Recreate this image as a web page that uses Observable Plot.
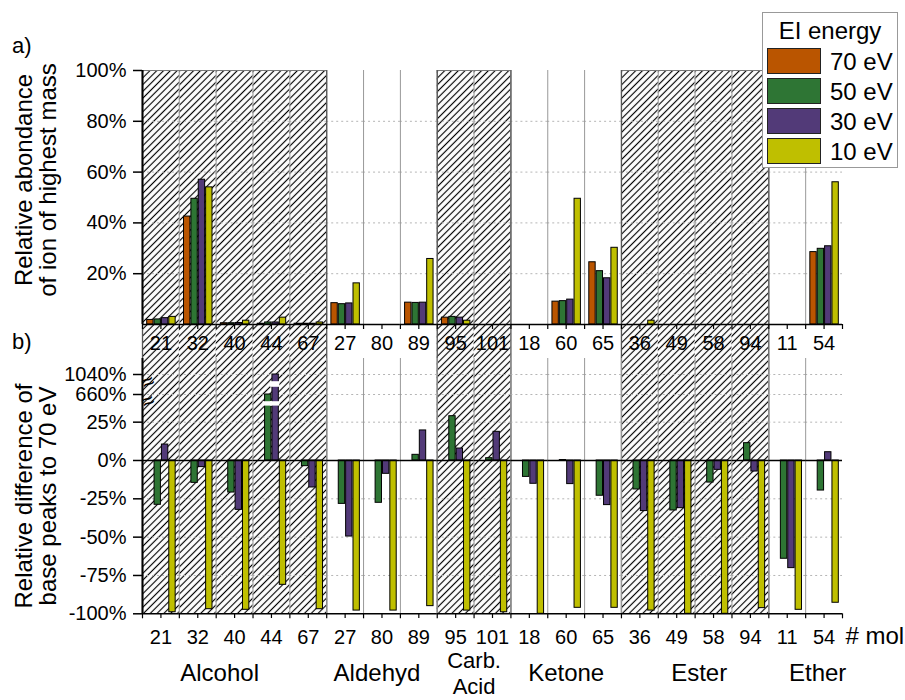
<!DOCTYPE html>
<html><head><meta charset="utf-8">
<script src="https://cdn.jsdelivr.net/npm/d3@7"></script>
<script src="https://cdn.jsdelivr.net/npm/@observablehq/plot@0.6"></script>
<style>
body{margin:0;background:#fff;font-family:"Liberation Sans",Arial,sans-serif;color:#000;}
#wrap{position:relative;width:905px;height:700px;overflow:hidden;background:#fff;}
#wrap svg.chart{position:absolute;left:0;top:0;}
.ytitle{position:absolute;width:330px;line-height:24px;font-size:24px;text-align:center;transform:translate(-50%,-50%) rotate(-90deg);white-space:nowrap;}
.panel{position:absolute;font-size:22px;line-height:28px;}
#legend{position:absolute;left:762px;top:12px;width:134px;height:154px;border:1px solid #999;background:#fff;}
#legend .ttl{position:absolute;left:0;top:4px;width:134px;text-align:center;font-size:24px;line-height:28px;}
#legend .sw{position:absolute;left:4px;width:52px;height:24px;border:1.5px solid #222;}
#legend .lb{position:absolute;left:67px;font-size:24px;line-height:28px;}
</style></head>
<body>
<svg width="0" height="0" style="position:absolute"><defs>
<pattern id="hatch" patternUnits="userSpaceOnUse" width="4.8" height="4.8" patternTransform="rotate(45)">
<line x1="2.4" y1="-1" x2="2.4" y2="5.8" stroke="#000" stroke-width="1.15"/>
</pattern></defs></svg>
<div id="wrap">
  <div class="panel" style="left:12px;top:32px">a)</div>
  <div class="panel" style="left:12px;top:328px">b)</div>
  <div class="ytitle" style="left:36px;top:180px">Relative abondance<br>of ion of highest mass</div>
  <div class="ytitle" style="left:36px;top:496px">Relative difference of<br>base peaks to 70 eV</div>
  <div id="legend"><div class="ttl">EI energy</div></div>
</div>
<script>
// ---- data ----
const molecules = ["21","32","40","44","67","27","80","89","95","101","18","60","65","36","49","58","94","11","54"];
const groupNames = ["Alcohol","Aldehyd","Carb.\nAcid","Ketone","Ester","Ether"];
const groupSizes = [5,3,2,3,4,2];
const hatchedGroups = ["Alcohol","Carb.\nAcid","Ester"];
const energies = ["70 eV","50 eV","30 eV","10 eV"];
const energyColors = ["#BA5500","#2E7534","#523A78","#BFBF00"];

// a) relative abundance of ion of highest mass (%)
const abund70 = [1.8, 42.5, 0.5, 0.3, 0.3, 8.4, 0, 8.6, 2.7, 0, 0, 9.0, 24.5, 0, 0, 0, 0, 0, 28.5];
const abund50 = [2.0, 49.5, 0.5, 0.8, 0.3, 8.0, 0, 8.5, 3.0, 0, 0, 9.2, 21.0, 0, 0, 0, 0, 0, 29.8];
const abund30 = [2.5, 57.0, 0.6, 0.8, 0.3, 8.3, 0, 8.6, 2.7, 0, 0, 9.8, 18.2, 0, 0, 0, 0, 0, 30.8];
const abund10 = [3.0, 54.0, 1.5, 2.7, 0.8, 16.2, 0, 25.8, 1.5, 0, 0, 49.5, 30.2, 1.5, 0, 0, 0, 0, 56.0];

// b) relative difference of base peaks to 70 eV (%)
const diff50 = [-28.9, -14.6, -20.9, 660, -3.7, -28.3, -27.6, 3.7, 28.9, 1.5, -10.7, 0.3, -23.0, -18.9, -32.6, -14.4, 11.3, -64.1, -19.6];
const diff30 = [10.4, -4.3, -32.2, 1040, -17.6, -49.6, -8.7, 19.6, 7.8, 18.7, -15.2, -15.4, -29.1, -33.0, -31.1, -6.1, -7.2, -70.2, 5.4];
const diff10 = [-99.0, -97.0, -97.4, -81.1, -97.0, -97.9, -97.9, -95.0, -97.9, -99.0, -100, -96.1, -96.1, -97.9, -100, -100, -96.3, -97.4, -92.8];

const topTicks = [20, 40, 60, 80, 100];
const topGrid = [20, 40, 60, 80];
const bottomTicks = [-100, -75, -50, -25, 0, 25, 660, 1040];
const bottomGrid = [-75, -50, -25, 25, 660, 1040];
const axisBreaks = [[36, 652], [668, 1032]];

// ---- derived tables ----
const abund = [abund70, abund50, abund30, abund10];
const diffs = [null, diff50, diff30, diff10];
const groupOf = [];
groupSizes.forEach((n, i) => { for (let k = 0; k < n; k++) groupOf.push(groupNames[i]); });
const hatchMols = molecules.filter((m, i) => hatchedGroups.includes(groupOf[i]));
const hatchEdges = [], groupLabels = [];
let s = 0;
groupSizes.forEach((n, i) => {
  if (hatchedGroups.includes(groupNames[i])) {
    hatchEdges.push({mol: molecules[s], x: -0.5});
    hatchEdges.push({mol: molecules[s + n - 1], x: 4.5});
  }
  groupLabels.push({label: groupNames[i], mol: molecules[s + Math.floor(n / 2)], x: n % 2 ? 2 : -0.5});
  s += n;
});
const topData = molecules.flatMap((m, i) => energies.map((e, k) => ({mol: m, energy: e, ei: k, v: abund[k][i]}))).filter(d => d.v > 0);
const diffData = molecules.flatMap((m, i) => energies.slice(1).map((e, j) => ({mol: m, energy: e, ei: j + 1, v: diffs[j + 1][i]})));
const gapData = diffData.flatMap(d => axisBreaks.filter(b => d.v > b[1]).map(b => ({...d, lo: b[0], hi: b[1]})));
const sepMols = molecules.slice(1).map(m => ({mol: m, x: -0.5}));
const tickMols = molecules.map(m => ({mol: m, x: -0.5})).concat([{mol: molecules[molecules.length - 1], x: 4.5}]);
const firstMol = [{mol: molecules[0], x: -0.5}];
const lastMol = [{mol: molecules[molecules.length - 1], x: 4.5}];

const FONT = "'Liberation Sans', Arial, sans-serif";
const pct = d => d + "%";
const common = {
  width: 905, height: 700, marginLeft: 142, marginRight: 63,
  style: {fontFamily: FONT, fontSize: "20px", background: "transparent", color: "black"},
  fx: {domain: molecules, padding: 0, round: false, label: null},
  x: {domain: [-0.5, 4.5], axis: null},
  color: {domain: energies, range: energyColors}
};

// ---- a) top panel ----
const plotA = Plot.plot({
  ...common, marginTop: 70, marginBottom: 376,
  y: {domain: [0, 100], label: null},
  marks: [
    Plot.rect(hatchMols, {fx: d => d, y1: 100, y2: 0, fill: "url(#hatch)", insetBottom: -289}),
    Plot.ruleY(molecules.flatMap(m => topGrid.map(v => ({mol: m, v}))), {fx: "mol", y: "v", stroke: "#b5b5b5", strokeDasharray: "2,3"}),
    Plot.ruleX(sepMols, {fx: "mol", x: "x", y1: 100, y2: 0, stroke: "#999", strokeWidth: 1}),
    Plot.ruleY(hatchMols, {fx: d => d, y: () => 100, stroke: "#777", strokeWidth: 1.2}),
    Plot.ruleX(hatchEdges, {fx: "mol", x: "x", y1: 100, y2: 0, insetBottom: -289, stroke: "#555", strokeWidth: 1.3}),
    Plot.rectY(topData, {fx: "mol", x: "ei", interval: 1, y1: 0, y2: "v", fill: "energy", stroke: "black", strokeWidth: 1}),
    Plot.ruleY(molecules, {fx: d => d, y: () => 0, stroke: "black", strokeWidth: 1.5}),
    Plot.ruleX(tickMols, {fx: "mol", x: "x", y1: 0, y2: 0, insetBottom: -5, stroke: "black", strokeWidth: 1.2}),
    Plot.ruleX(firstMol, {fx: "mol", x: "x", y1: 100, y2: 0, stroke: "black", strokeWidth: 2}),
    Plot.axisY({ticks: topTicks, tickFormat: pct, tickSize: 9, tickPadding: 7, fontSize: 20, label: null, strokeWidth: 1.5}),
    Plot.axisFx({anchor: "bottom", tickSize: 5, tickPadding: 6, fontSize: 20, label: null, strokeWidth: 1.2})
  ]
});

// ---- b) bottom panel (broken axis) ----
const plotB = Plot.plot({
  ...common, marginTop: 358, marginBottom: 87,
  y: {type: "linear",
      domain: [-100, axisBreaks[0][0], axisBreaks[0][1], axisBreaks[1][0], axisBreaks[1][1], 1056],
      range: [613.3, 404.8, 402, 386, 382, 358], label: null},
  marks: [
    Plot.ruleY(molecules.flatMap(m => bottomGrid.map(v => ({mol: m, v}))), {fx: "mol", y: "v", stroke: "#b5b5b5", strokeDasharray: "2,3"}),
    Plot.ruleX(sepMols, {fx: "mol", x: "x", y1: 1056, y2: -100, stroke: "#999", strokeWidth: 1}),
    Plot.rectY(diffData, {fx: "mol", x: "ei", interval: 1, y1: 0, y2: "v", fill: "energy", stroke: "black", strokeWidth: 1}),
    Plot.rectY(gapData, {fx: "mol", x: "ei", interval: 1, y1: "lo", y2: "hi", fill: "white", insetTop: -0.8, insetBottom: -0.8, insetLeft: -1, insetRight: -1}),
    Plot.ruleY(molecules, {fx: d => d, y: () => 0, stroke: "black", strokeWidth: 1.5}),
    Plot.ruleY(molecules, {fx: d => d, y: () => -100, stroke: "black", strokeWidth: 1.5}),
    Plot.ruleX(tickMols, {fx: "mol", x: "x", y1: -100, y2: -100, insetBottom: -5, stroke: "black", strokeWidth: 1.2}),
    Plot.ruleX(firstMol, {fx: "mol", x: "x", y1: 1056, y2: -100, stroke: "black", strokeWidth: 2}),
    Plot.text(axisBreaks.map(b => ({mol: molecules[0], y: (b[0] + b[1]) / 2})), {fx: "mol", y: "y", frameAnchor: "left", text: () => "≈", fontSize: 22, rotate: -25, fill: "black"}),
    Plot.axisY({ticks: bottomTicks, tickFormat: pct, tickSize: 9, tickPadding: 7, fontSize: 20, label: null, strokeWidth: 1.5}),
    Plot.axisFx({anchor: "bottom", tickSize: 5, tickPadding: 11, fontSize: 20, label: null, strokeWidth: 1.2}),
    ...groupLabels.map((g, i) => {
      const two = g.label.includes("\n");
      return Plot.text([g], {fx: "mol", x: "x", text: "label", frameAnchor: "bottom", dy: two ? 59 : 60, dx: [-15, -5, 0, 0, 4, 12][i], lineAnchor: "middle", lineHeight: two ? 1.18 : 1, fontSize: two ? 22 : 24});
    }),
    Plot.text(lastMol, {fx: "mol", x: "x", text: () => "# mol", frameAnchor: "bottom", dy: 23, dx: 3, textAnchor: "start", lineAnchor: "middle", fontSize: 24})
  ]
});

const wrap = document.getElementById("wrap");
[plotA, plotB].forEach((p, i) => { p.classList.add("chart"); p.style.zIndex = i + 1; wrap.appendChild(p); });
wrap.querySelectorAll(".panel,.ytitle,#legend").forEach(el => { el.style.zIndex = 5; });

// legend
const legend = document.getElementById("legend");
energies.forEach((e, k) => {
  const sw = document.createElement("div");
  sw.className = "sw"; sw.style.top = (34.5 + 30 * k) + "px"; sw.style.background = energyColors[k];
  const lb = document.createElement("div");
  lb.className = "lb"; lb.style.top = (34.5 + 30 * k) + "px"; lb.textContent = e;
  legend.appendChild(sw); legend.appendChild(lb);
});
</script>
</body></html>
